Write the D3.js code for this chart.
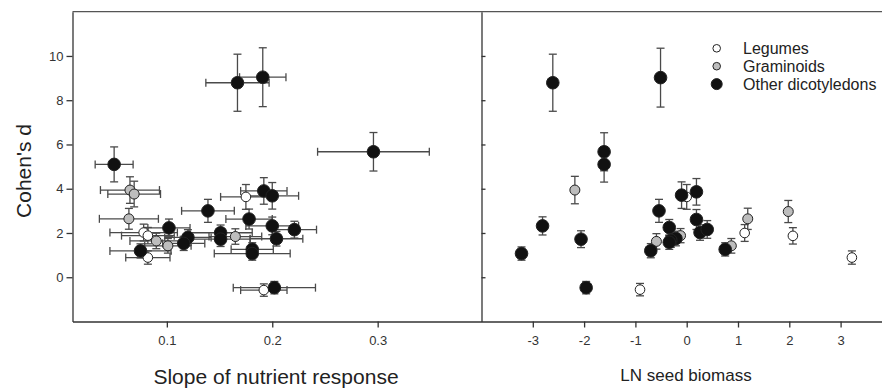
<!DOCTYPE html>
<html>
<head>
<meta charset="utf-8">
<script src="https://cdn.jsdelivr.net/npm/d3@7"></script>
<style>
  body { margin: 0; background: #fff; }
  svg { display: block; font-family: "Liberation Sans", Arial, sans-serif; }
  .tick text { fill: #333; font-size: 13px; }
  .domain, .tick line { stroke: #333; stroke-width: 1.3; }
</style>
</head>
<body>
<svg id="chart" width="882" height="392"></svg>
<script>
const groups = ['Legumes', 'Graminoids', 'Other dicotyledons'];

// left panel: slope of nutrient response vs Cohen's d
const slopeX    = [0.167, 0.191, 0.050, 0.296, 0.192, 0.200, 0.139, 0.178, 0.200, 0.221, 0.102, 0.120, 0.116, 0.151, 0.151, 0.204, 0.181, 0.181, 0.075, 0.202,
                   0.065, 0.069, 0.064, 0.090, 0.101, 0.165,
                   0.175, 0.078, 0.082, 0.082, 0.192];
const slopeXErr = [0.030, 0.022, 0.018, 0.053, 0.022, 0.025, 0.025, 0.022, 0.025, 0.021, 0.020, 0.022, 0.020, 0.030, 0.028, 0.025, 0.020, 0.036, 0.029, 0.039,
                   0.028, 0.025, 0.028, 0.025, 0.022, 0.025,
                   0.024, 0.032, 0.025, 0.021, 0.022];
const slopeD    = [8.79, 9.04, 5.10, 5.67, 3.90, 3.68, 3.00, 2.63, 2.32, 2.15, 2.23, 1.80, 1.53, 2.01, 1.72, 1.74, 1.26, 1.07, 1.19, -0.47,
                   3.94, 3.76, 2.64, 1.64, 1.42, 1.84,
                   3.63, 2.02, 1.88, 0.89, -0.58];
const slopeDErr = [1.29, 1.33, 0.79, 0.87, 0.60, 0.60, 0.52, 0.45, 0.40, 0.38, 0.40, 0.35, 0.32, 0.35, 0.33, 0.33, 0.30, 0.30, 0.32, 0.28,
                   0.60, 0.58, 0.47, 0.35, 0.33, 0.35,
                   0.56, 0.38, 0.37, 0.30, 0.28];
const slopeGroup = [2,2,2,2,2,2,2,2,2,2,2,2,2,2,2,2,2,2,2,2, 1,1,1,1,1,1, 0,0,0,0,0];

// right panel: LN seed biomass vs Cohen's d
const seedX    = [-2.61, -0.51, -1.61, -1.61, -0.10, 0.19, -0.54, 0.19, -2.81, -0.34, 0.26, 0.40, -3.22, -2.06, -1.96, -0.70, 0.75, -0.21, -0.31, -0.34,
                  -2.18, -0.59, -0.12, 0.87, 1.19, 1.98,
                  -0.91, 0.00, 1.13, 2.07, 3.22];
const seedD    = [8.79, 9.02, 5.67, 5.10, 3.71, 3.86, 3.00, 2.61, 2.32, 2.25, 2.02, 2.16, 1.07, 1.72, -0.47, 1.20, 1.26, 1.75, 1.67, 1.58,
                  3.94, 1.62, 1.88, 1.42, 2.64, 2.97,
                  -0.56, 3.63, 2.00, 1.87, 0.89];
const seedDErr = [1.29, 1.33, 0.86, 0.80, 0.60, 0.60, 0.52, 0.45, 0.41, 0.36, 0.35, 0.40, 0.30, 0.38, 0.28, 0.32, 0.30, 0.33, 0.32, 0.32,
                  0.62, 0.35, 0.32, 0.33, 0.48, 0.50,
                  0.28, 0.56, 0.38, 0.37, 0.30];
const seedGroup = [2,2,2,2,2,2,2,2,2,2,2,2,2,2,2,2,2,2,2,2, 1,1,1,1,1,1, 0,0,0,0,0];

const yTicks = [0, 2, 4, 6, 8, 10];
const slopeTicks = [0.1, 0.2, 0.3];
const seedTicks = [-3, -2, -1, 0, 1, 2, 3];

const fills = ['#ffffff', '#bdbdbd', '#111111'];
const radius = [4.8, 5, 6.3];

const svg = d3.select('#chart');
const plotTop = 11.7, plotBottom = 321.5;
const y = d3.scaleLinear().domain([-2, 12]).range([plotBottom, plotTop]);
const xL = d3.scaleLinear().domain([0.0105, 0.3985]).range([72.5, 481.5]);
const xR = d3.scaleLinear().domain([-4, 4]).range([481.5, 891.9]);

// frame top
svg.append('line')
  .attr('x1', 72.5).attr('x2', 882).attr('y1', plotTop).attr('y2', plotTop)
  .attr('stroke', '#555').attr('stroke-width', 1.3);

// left axes
svg.append('g')
  .attr('transform', `translate(0,${plotBottom})`)
  .call(d3.axisBottom(xL).tickValues(slopeTicks).tickSize(6).tickPadding(8).tickSizeOuter(0).tickFormat(d3.format('.1f')));
svg.append('g')
  .attr('transform', `translate(${xL.range()[0]},0)`)
  .call(d3.axisLeft(y).tickValues(yTicks).tickSize(6).tickPadding(3).tickSizeOuter(0));

// right axes (plain hyphen for negatives, like the original)
svg.append('g')
  .attr('transform', `translate(0,${plotBottom})`)
  .call(d3.axisBottom(xR).tickValues(seedTicks).tickSize(6).tickPadding(8).tickSizeOuter(0).tickFormat(d => String(d)));
svg.append('g')
  .attr('transform', `translate(${xR.range()[0]},0)`)
  .call(d3.axisRight(y).tickValues(yTicks).tickSize(4).tickSizeOuter(0).tickFormat(''));

svg.selectAll('.domain').attr('stroke', '#333');

function errBars(g, xs, ys, xe, ye, sx) {
  const cap = 4;
  const idx = d3.range(xs.length);
  const eb = g.append('g').attr('stroke', '#4a4a4a').attr('stroke-width', 1.3).attr('fill', 'none');
  if (xe) {
    idx.forEach(i => {
      const x0 = sx(xs[i] - xe[i]), x1 = sx(xs[i] + xe[i]), yy = y(ys[i]);
      eb.append('line').attr('x1', x0).attr('x2', x1).attr('y1', yy).attr('y2', yy);
      eb.append('line').attr('x1', x0).attr('x2', x0).attr('y1', yy - cap).attr('y2', yy + cap);
      eb.append('line').attr('x1', x1).attr('x2', x1).attr('y1', yy - cap).attr('y2', yy + cap);
    });
  }
  idx.forEach(i => {
    const xx = sx(xs[i]), y0 = y(ys[i] - ye[i]), y1 = y(ys[i] + ye[i]);
    eb.append('line').attr('x1', xx).attr('x2', xx).attr('y1', y0).attr('y2', y1);
    eb.append('line').attr('x1', xx - cap).attr('x2', xx + cap).attr('y1', y0).attr('y2', y0);
    eb.append('line').attr('x1', xx - cap).attr('x2', xx + cap).attr('y1', y1).attr('y2', y1);
  });
}

function points(g, xs, ys, grp, sx) {
  const idx = d3.range(xs.length).sort((a, b) => grp[a] - grp[b]);
  g.append('g').selectAll('circle')
    .data(idx)
    .enter()
    .append('circle')
    .attr('cx', i => sx(xs[i]))
    .attr('cy', i => y(ys[i]))
    .attr('r', i => radius[grp[i]])
    .attr('fill', i => fills[grp[i]])
    .attr('stroke', '#222')
    .attr('stroke-width', 1);
}

const leftPanel = svg.append('g');
errBars(leftPanel, slopeX, slopeD, slopeXErr, slopeDErr, xL);
points(leftPanel, slopeX, slopeD, slopeGroup, xL);

const rightPanel = svg.append('g');
errBars(rightPanel, seedX, seedD, null, seedDErr, xR);
points(rightPanel, seedX, seedD, seedGroup, xR);

// axis titles
svg.append('text')
  .attr('transform', 'translate(31,171) rotate(-90)')
  .attr('text-anchor', 'middle')
  .attr('font-size', 21).attr('fill', '#222')
  .text("Cohen's d");
svg.append('text')
  .attr('x', 276).attr('y', 384)
  .attr('text-anchor', 'middle')
  .attr('font-size', 21).attr('fill', '#222')
  .text('Slope of nutrient response');
svg.append('text')
  .attr('x', 686).attr('y', 381)
  .attr('text-anchor', 'middle')
  .attr('font-size', 17).attr('fill', '#222')
  .text('LN seed biomass');

// legend
const legendR = [3.8, 3.8, 5.5];
const leg = svg.append('g');
groups.forEach((name, i) => {
  const ly = 48.3 + i * 17.9;
  leg.append('circle')
    .attr('cx', 716.7).attr('cy', ly).attr('r', legendR[i])
    .attr('fill', fills[i]).attr('stroke', '#222').attr('stroke-width', 1);
  leg.append('text')
    .attr('x', 743).attr('y', ly + 6)
    .attr('font-size', 16).attr('fill', '#222')
    .text(name);
});
</script>
</body>
</html>
